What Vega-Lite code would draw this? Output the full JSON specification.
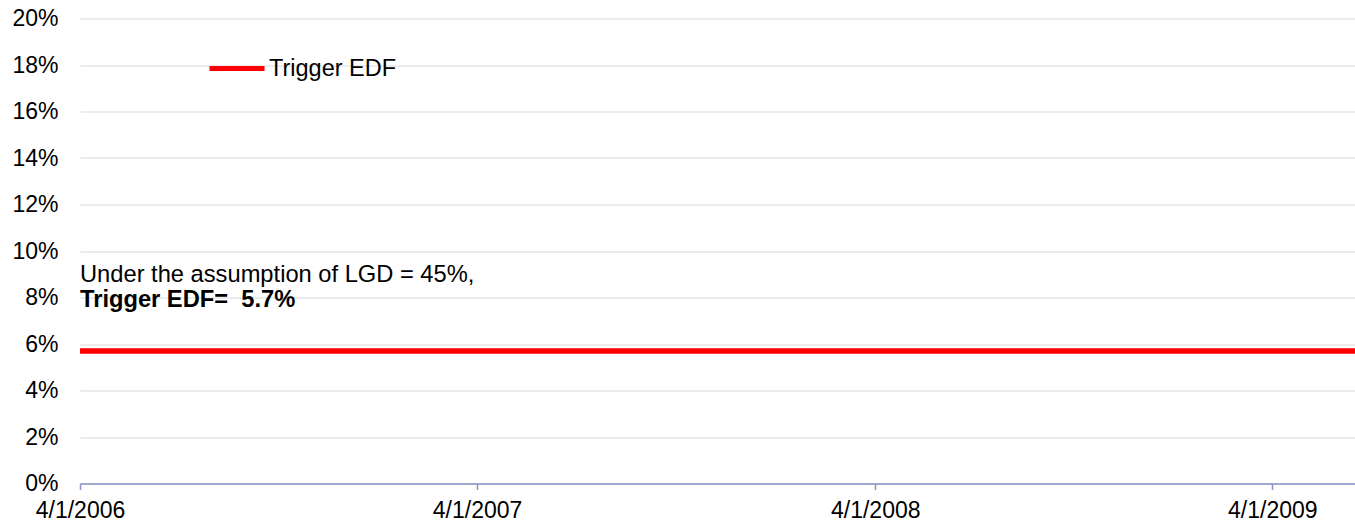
{
  "$schema": "https://vega.github.io/schema/vega-lite/v6.json",
  "width": 1275,
  "height": 465,
  "autosize": {"type": "none"},
  "padding": {"left": 80, "top": 18.5, "right": 0, "bottom": 39.5},
  "background": "white",
  "config": {
    "view": {"stroke": null},
    "font": "Liberation Sans",
    "axis": {"labelFont": "Liberation Sans", "labelFontSize": 23, "labelColor": "black"},
    "legend": {"labelFont": "Liberation Sans", "labelFontSize": 23.5, "labelColor": "black"}
  },
  "layer": [
    {
      "data": {"values": [
        {"date": "2006/04/01", "edf": 0.057, "series": "Trigger EDF"},
        {"date": "2009/06/16", "edf": 0.057, "series": "Trigger EDF"}
      ]},
      "mark": {"type": "line", "strokeWidth": 5.5, "clip": true},
      "encoding": {
        "x": {
          "field": "date", "type": "temporal",
          "scale": {"domain": [{"year": 2006, "month": 4, "date": 1}, {"year": 2009, "month": 6, "date": 16}]},
          "axis": {
            "title": null,
            "values": [
              {"year": 2006, "month": 4, "date": 1},
              {"year": 2007, "month": 4, "date": 1},
              {"year": 2008, "month": 4, "date": 1},
              {"year": 2009, "month": 4, "date": 1}
            ],
            "format": "%-m/%-d/%Y",
            "grid": false,
            "domainColor": "#8E92C4",
            "domainWidth": 1.5,
            "tickColor": "#8E92C4",
            "tickWidth": 1.5,
            "tickSize": 6,
            "labelPadding": 10,
            "labelFlush": false,
            "labelOverlap": false,
            "labelBound": false
          }
        },
        "y": {
          "field": "edf", "type": "quantitative",
          "scale": {"domain": [0, 0.2], "nice": false, "zero": true},
          "axis": {
            "title": null,
            "values": [0, 0.02, 0.04, 0.06, 0.08, 0.1, 0.12, 0.14, 0.16, 0.18, 0.2],
            "format": ".0%",
            "domain": false,
            "ticks": false,
            "tickSize": 0,
            "labelPadding": 22,
            "grid": true,
            "gridColor": "#D9D9D9",
            "gridWidth": 1
          }
        },
        "color": {
          "field": "series", "type": "nominal",
          "scale": {"range": ["#FF0000"]},
          "legend": {
            "title": null,
            "orient": "none",
            "legendX": 127,
            "legendY": 20,
            "padding": 0,
            "symbolType": "stroke",
            "symbolSize": 3025,
            "symbolStrokeWidth": 5,
            "labelOffset": 2
          }
        }
      }
    },
    {
      "data": {"values": [{"note": "Under the assumption of LGD = 45%,"}]},
      "mark": {"type": "text", "align": "left", "baseline": "alphabetic", "fontSize": 23.7, "font": "Liberation Sans", "color": "black"},
      "encoding": {
        "x": {"datum": {"year": 2006, "month": 4, "date": 1}, "type": "temporal"},
        "y": {"datum": 0.0867, "type": "quantitative"},
        "text": {"field": "note"}
      }
    },
    {
      "data": {"values": [{"note": "Trigger EDF= \u00a05.7%"}]},
      "mark": {"type": "text", "align": "left", "baseline": "alphabetic", "fontSize": 23.7, "fontWeight": "bold", "font": "Liberation Sans", "color": "black"},
      "encoding": {
        "x": {"datum": {"year": 2006, "month": 4, "date": 1}, "type": "temporal"},
        "y": {"datum": 0.0759, "type": "quantitative"},
        "text": {"field": "note"}
      }
    }
  ]
}
